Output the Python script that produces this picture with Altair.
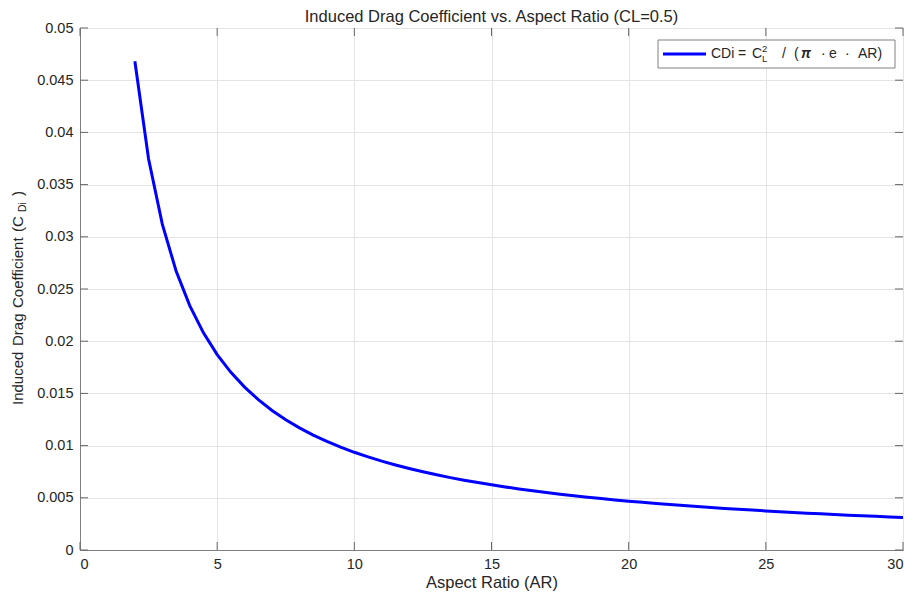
import altair as alt
import pandas as pd

# Aspect ratio samples and induced drag coefficient values
ar = [2, 2.5, 3, 3.5, 4, 4.5, 5, 5.5, 6, 6.5, 7, 7.5, 8, 8.5, 9, 9.5, 10,
      10.5, 11, 11.5, 12, 12.5, 13, 13.5, 14, 14.5, 15, 15.5, 16, 16.5, 17,
      17.5, 18, 18.5, 19, 19.5, 20, 20.5, 21, 21.5, 22, 22.5, 23, 23.5, 24,
      24.5, 25, 25.5, 26, 26.5, 27, 27.5, 28, 28.5, 29, 29.5, 30]
cdi = [0.04681, 0.03745, 0.03121, 0.02675, 0.02341, 0.02080, 0.01872, 0.01702,
       0.01560, 0.01440, 0.01337, 0.01248, 0.01170, 0.01101, 0.01040, 0.00985,
       0.00936, 0.00892, 0.00851, 0.00814, 0.00780, 0.00749, 0.00720, 0.00693,
       0.00669, 0.00646, 0.00624, 0.00604, 0.00585, 0.00567, 0.00551, 0.00535,
       0.00520, 0.00506, 0.00493, 0.00480, 0.00468, 0.00457, 0.00446, 0.00435,
       0.00426, 0.00416, 0.00407, 0.00398, 0.00390, 0.00382, 0.00374, 0.00367,
       0.00360, 0.00353, 0.00347, 0.00340, 0.00334, 0.00328, 0.00323, 0.00317,
       0.00312]

x_ticks = [0, 5, 10, 15, 20, 25, 30]
y_ticks = [0, 0.005, 0.01, 0.015, 0.02, 0.025, 0.03, 0.035, 0.04, 0.045, 0.05]

title_text = "Induced Drag Coefficient vs. Aspect Ratio (CL=0.5)"
x_title = "Aspect Ratio (AR)"

W, H = 823, 522
FONT = "Liberation Sans"
TXT = "#262626"
GRAY = "#808080"

df = pd.DataFrame({"AR": ar, "CDi": cdi})
xt = pd.DataFrame({"v": x_ticks})
yt = pd.DataFrame({"v": y_ticks})

xs = alt.Scale(domain=[0, 30], nice=False, zero=False)
ys = alt.Scale(domain=[0, 0.05], nice=False, zero=False)

line = alt.Chart(df).mark_line(color="#0000ff", strokeWidth=3, clip=True).encode(
    x=alt.X("AR:Q", scale=xs, title=x_title,
            axis=alt.Axis(values=x_ticks, tickSize=0, labelFontSize=14.5,
                          labelColor=TXT, labelPadding=7, labelFont=FONT,
                          titleFont=FONT, titleFontSize=16.5, titleColor=TXT,
                          titleFontWeight="normal", titlePadding=4,
                          grid=True, gridColor="#e4e4e4",
                          domainColor=GRAY)),
    y=alt.Y("CDi:Q", scale=ys, title=None,
            axis=alt.Axis(values=y_ticks, format="~g", tickSize=0,
                          labelFontSize=14.5, labelColor=TXT, labelPadding=7,
                          labelFont=FONT, grid=True, gridColor="#e4e4e4",
                          domainColor=GRAY)),
)

tick_col = "#666666"
bt = alt.Chart(xt).mark_rule(color=tick_col).encode(
    x=alt.X("v:Q", scale=xs), y=alt.value(H), y2=alt.value(H - 8))
tt = alt.Chart(xt).mark_rule(color=tick_col).encode(
    x=alt.X("v:Q", scale=xs), y=alt.value(0), y2=alt.value(8))
lt = alt.Chart(yt).mark_rule(color=tick_col).encode(
    y=alt.Y("v:Q", scale=ys), x=alt.value(0), x2=alt.value(8))
rt = alt.Chart(yt).mark_rule(color=tick_col).encode(
    y=alt.Y("v:Q", scale=ys), x=alt.value(W), x2=alt.value(W - 8))

def txt(s, x, y, size=14, angle=0, align="left", weight="normal", style="normal", color=TXT):
    return alt.Chart(pd.DataFrame({"t": [s]})).mark_text(
        font=FONT, fontSize=size, angle=angle, align=align, baseline="middle",
        fontWeight=weight, fontStyle=style, color=color,
    ).encode(text="t:N", x=alt.value(x), y=alt.value(y))

OX, OY = 80, 28  # page offset of plot origin

# legend
leg_box = alt.Chart(pd.DataFrame({"a": [0]})).mark_rect(
    fill="white", stroke=GRAY, strokeWidth=1).encode(
    x=alt.value(658 - OX), x2=alt.value(895 - OX),
    y=alt.value(40 - OY), y2=alt.value(68 - OY))
leg_line = alt.Chart(pd.DataFrame({"a": [0]})).mark_rule(
    color="#0000ff", strokeWidth=3).encode(
    x=alt.value(663 - OX), x2=alt.value(706 - OX), y=alt.value(54 - OY))

ly = 54 - OY
legend_texts = [
    txt("CDi", 711 - OX, ly),
    txt("=", 738 - OX, ly),
    txt("C", 752 - OX, ly),
    txt("2", 762 - OX, ly - 5, size=9.5),
    txt("L", 762 - OX, ly + 5, size=9.5),
    txt("/", 782 - OX, ly),
    txt("(", 794 - OX, ly),
    txt("\u03c0", 801 - OX, ly, weight="bold", style="italic"),
    txt("\u00b7", 821 - OX, ly),
    txt("e", 829 - OX, ly),
    txt("\u00b7", 845 - OX, ly),
    txt("AR)", 858 - OX, ly),
]

# title
title = txt(title_text, 491.5 - OX, 16.5 - OY, size=16.5, align="center")

# y-axis title (rotated, reading upward)
yx = 18 - OX
ytitle = [
    txt("Induced", yx, 405 - OY, size=15, angle=270),
    txt("Drag", yx, 346 - OY, size=15, angle=270),
    txt("Coefficient", yx, 308 - OY, size=15, angle=270),
    txt("(C", yx, 232 - OY, size=15, angle=270),
    txt("Di", yx + 5, 212 - OY, size=10.5, angle=270),
    txt(")", yx, 196 - OY, size=15, angle=270),
]

chart = alt.layer(line, bt, tt, lt, rt, leg_box, leg_line, title,
                  *legend_texts, *ytitle).properties(
    width=W, height=H,
    autosize=alt.AutoSizeParams(type="none"),
    padding={"left": OX - 8, "top": OY - 8, "right": 2, "bottom": 60},
    background="white",
).configure_view(stroke=GRAY, strokeWidth=1)

chart.save("out.html", embed_options={"renderer": "svg", "actions": False})
